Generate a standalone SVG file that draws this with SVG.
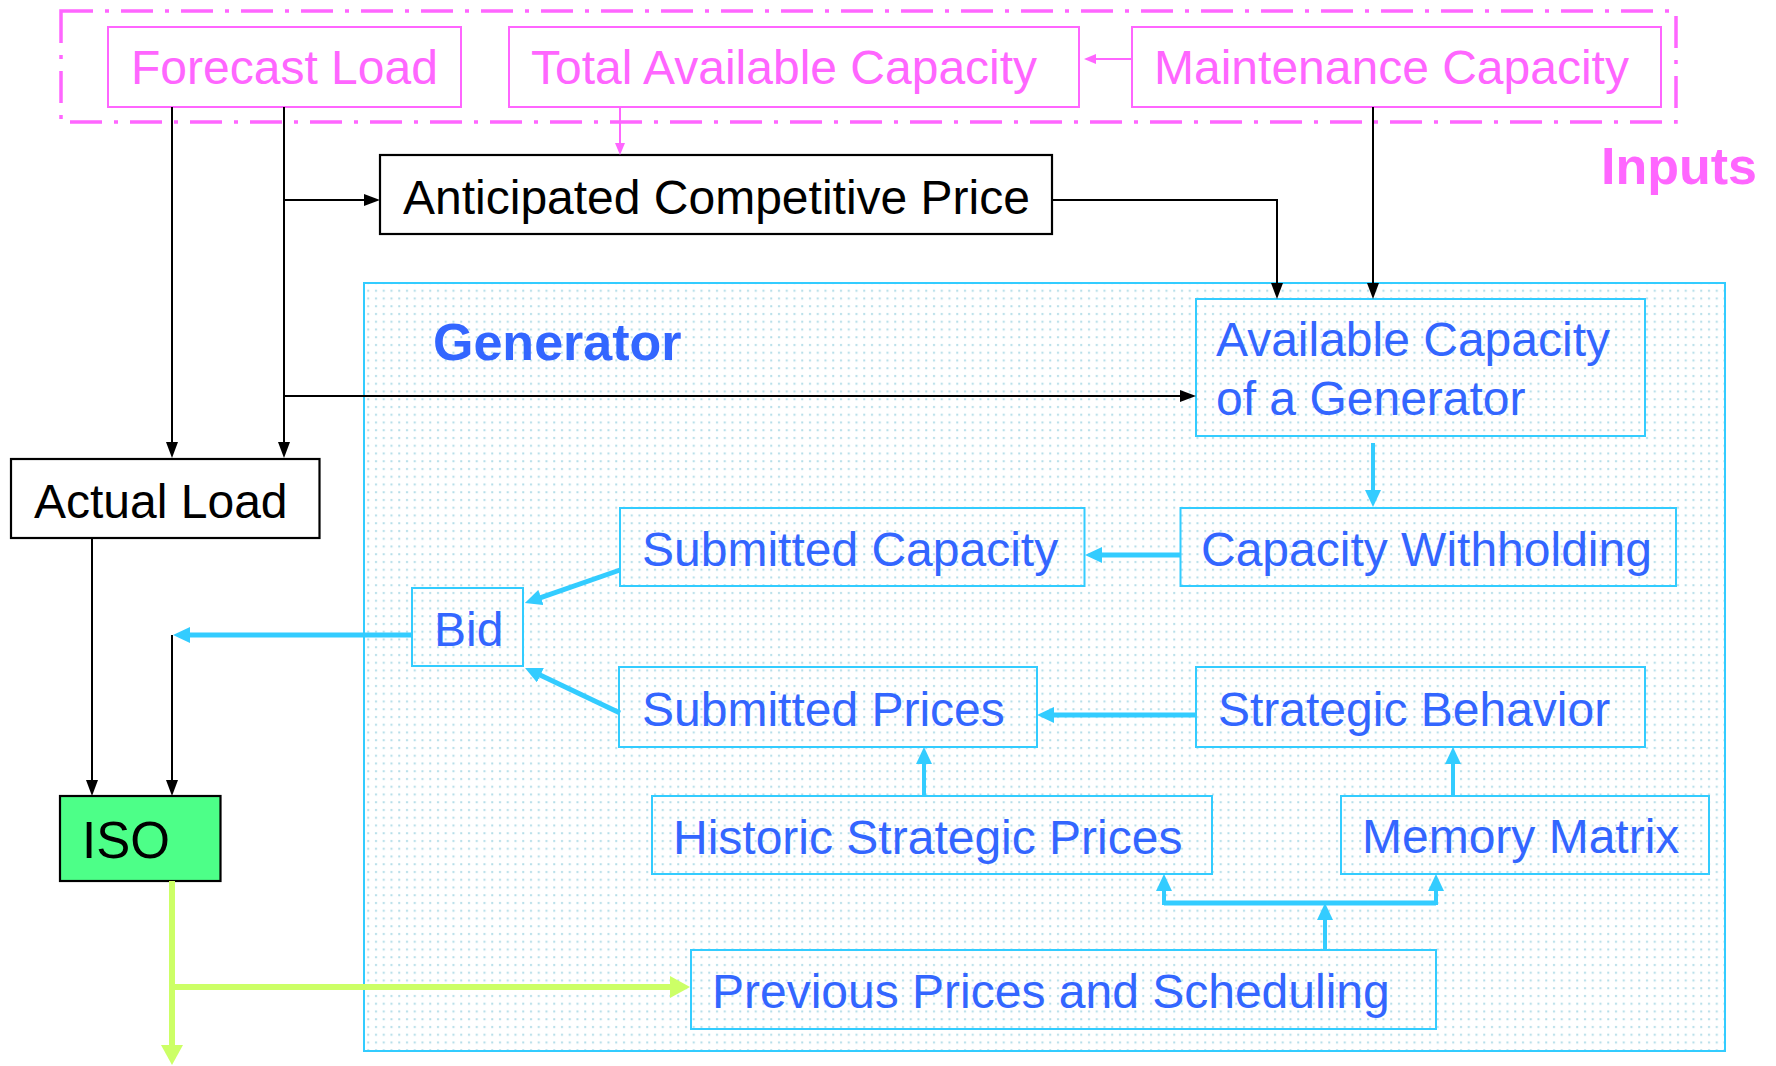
<svg xmlns="http://www.w3.org/2000/svg" width="1776" height="1066" viewBox="0 0 1776 1066">
<style>
text{font-family:"Liberation Sans",Arial,sans-serif;font-size:48px}
.pk{fill:#FF66FF}
.bl{fill:#3366FF}
.bk{fill:#000}
.pbox{fill:none;stroke:#FF66FF;stroke-width:2}
.cbox{fill:none;stroke:#33CCFF;stroke-width:2}
.kbox{fill:#fff;stroke:#000;stroke-width:2.2}
.lk{fill:none;stroke:#000;stroke-width:2}
.lp{fill:none;stroke:#FF66FF;stroke-width:2}
.lc{fill:none;stroke:#33CCFF;stroke-width:5}
.lc4{fill:none;stroke:#33CCFF;stroke-width:4}
.lg{fill:none;stroke:#CCFF66;stroke-width:6}
.bold{font-weight:bold;font-size:52px}
</style>
<defs>
<pattern id="dots" width="7.75" height="7.75" patternUnits="userSpaceOnUse">
<rect width="7.75" height="7.75" fill="#fff"/>
<rect x="3" y="3" width="2" height="2" fill="#B3DDE8"/>
</pattern>
<marker id="ak" markerUnits="userSpaceOnUse" markerWidth="16" markerHeight="12" refX="1" refY="6" orient="auto"><path d="M0,0 L16,6 L0,12 z" fill="#000"/></marker>
<marker id="ap" markerUnits="userSpaceOnUse" markerWidth="12" markerHeight="10" refX="1" refY="5" orient="auto"><path d="M0,0 L12,5 L0,10 z" fill="#FF66FF"/></marker>
<marker id="ac" markerUnits="userSpaceOnUse" markerWidth="17" markerHeight="16" refX="1" refY="8" orient="auto"><path d="M0,0 L17,8 L0,16 z" fill="#33CCFF"/></marker>
<marker id="ag" markerUnits="userSpaceOnUse" markerWidth="20" markerHeight="22" refX="1" refY="11" orient="auto"><path d="M0,0 L20,11 L0,22 z" fill="#CCFF66"/></marker>
</defs>
<rect width="1776" height="1066" fill="#fff"/>

<g id="inputs">
<rect x="61" y="11" width="1615" height="111" fill="none" stroke="#FF66FF" stroke-width="3.5" stroke-dasharray="32 12 4 12"/>
<text class="pk bold" x="1601" y="184">Inputs</text>
</g>

<g id="generator">
<rect x="364" y="283" width="1361" height="768" fill="url(#dots)" stroke="#33CCFF" stroke-width="2"/>
<text class="bl bold" x="433" y="360">Generator</text>
</g>

<g id="forecast-load"><rect class="pbox" x="108" y="27" width="353" height="80"/><text class="pk" x="131" y="84">Forecast Load</text></g>
<g id="total-available-capacity"><rect class="pbox" x="509" y="27" width="570" height="80"/><text class="pk" x="531" y="84">Total Available Capacity</text></g>
<g id="maintenance-capacity"><rect class="pbox" x="1132" y="27" width="529" height="80"/><text class="pk" x="1154" y="84">Maintenance Capacity</text></g>
<g id="anticipated-price"><rect class="kbox" x="380" y="155" width="672" height="79"/><text class="bk" x="403" y="214">Anticipated Competitive Price</text></g>
<g id="actual-load"><rect class="kbox" x="11" y="459" width="308.5" height="79"/><text class="bk" x="34" y="518">Actual Load</text></g>
<g id="iso"><rect x="60" y="796" width="160.5" height="85" fill="#4DFF88" stroke="#000" stroke-width="2.2"/><text class="bk" x="82" y="858" style="font-size:51px">ISO</text></g>
<g id="available-capacity"><rect class="cbox" x="1196" y="299" width="449" height="137"/><text class="bl" x="1216" y="356">Available Capacity</text><text class="bl" x="1216" y="415">of a Generator</text></g>
<g id="capacity-withholding"><rect class="cbox" x="1180.5" y="508" width="495.5" height="78"/><text class="bl" x="1201" y="566">Capacity Withholding</text></g>
<g id="submitted-capacity"><rect class="cbox" x="620" y="508" width="464.5" height="78"/><text class="bl" x="642" y="566">Submitted Capacity</text></g>
<g id="bid"><rect class="cbox" x="412" y="588" width="111" height="78"/><text class="bl" x="434" y="646">Bid</text></g>
<g id="submitted-prices"><rect class="cbox" x="619" y="667" width="418" height="80"/><text class="bl" x="642" y="726">Submitted Prices</text></g>
<g id="strategic-behavior"><rect class="cbox" x="1196" y="667" width="449" height="80"/><text class="bl" x="1218" y="726">Strategic Behavior</text></g>
<g id="historic-strategic-prices"><rect class="cbox" x="652" y="796" width="560" height="78"/><text class="bl" x="673" y="854">Historic Strategic Prices</text></g>
<g id="memory-matrix"><rect class="cbox" x="1341" y="796" width="368" height="78"/><text class="bl" x="1362" y="853">Memory Matrix</text></g>
<g id="previous-prices"><rect class="cbox" x="691" y="950" width="745" height="79"/><text class="bl" x="712" y="1008">Previous Prices and Scheduling</text></g>

<g id="connectors">
<path class="lk" d="M172,107 V443" marker-end="url(#ak)"/>
<path class="lk" d="M284,107 V443" marker-end="url(#ak)"/>
<path class="lk" d="M284,200 H365" marker-end="url(#ak)"/>
<path class="lk" d="M284,396 H1181" marker-end="url(#ak)"/>
<path class="lk" d="M1052,200 H1277 V284" marker-end="url(#ak)"/>
<path class="lk" d="M1373,107 V284" marker-end="url(#ak)"/>
<path class="lk" d="M92,538 V781" marker-end="url(#ak)"/>
<path class="lk" d="M172,635 V781" marker-end="url(#ak)"/>
<path class="lp" d="M620,107 V144" marker-end="url(#ap)"/>
<path class="lp" d="M1132,59 H1095" marker-end="url(#ap)"/>
<path class="lc" d="M412,635 H189" marker-end="url(#ac)"/>
<path class="lc" d="M1180,555 H1101" marker-end="url(#ac)"/>
<path class="lc" d="M1196,715 H1053" marker-end="url(#ac)"/>
<path class="lc" d="M620,570 L540,597.8" marker-end="url(#ac)"/>
<path class="lc" d="M620,713 L539.5,674.8" marker-end="url(#ac)"/>
<path class="lc4" d="M1373,443 V491" marker-end="url(#ac)"/>
<path class="lc4" d="M924,796 V763" marker-end="url(#ac)"/>
<path class="lc4" d="M1453,796 V763" marker-end="url(#ac)"/>
<path class="lc4" d="M1325,950 V919" marker-end="url(#ac)"/>
<path class="lc" d="M1164,903 H1436"/>
<path class="lc4" d="M1164,905 V890" marker-end="url(#ac)"/>
<path class="lc4" d="M1436,905 V890" marker-end="url(#ac)"/>
<path class="lg" d="M172,881 V1046" marker-end="url(#ag)"/>
<path class="lg" d="M172,987 H671" marker-end="url(#ag)"/>
</g>
</svg>
